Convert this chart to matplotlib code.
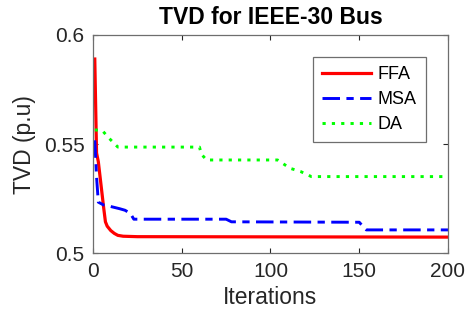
import matplotlib
matplotlib.use('Agg')
import matplotlib.pyplot as plt

plt.rcParams['font.family'] = ['Liberation Sans', 'DejaVu Sans']

# FFA curve
ffa_iter = [1, 2, 3, 4, 5, 6, 7, 8, 10, 12, 14, 17, 25, 200]
ffa_tvd = [0.589, 0.546, 0.542, 0.535, 0.528, 0.521, 0.5145, 0.5125, 0.5105,
           0.5092, 0.5083, 0.5079, 0.5077, 0.5075]

# MSA curve
msa_iter = [1, 2, 3, 6, 10, 15, 18, 21, 23, 75, 78, 150, 152, 154, 200]
msa_tvd = [0.5518, 0.535, 0.5235, 0.5222, 0.5215, 0.5205, 0.5198, 0.5184, 0.5157,
           0.5157, 0.5145, 0.5143, 0.5125, 0.5108, 0.5108]

# DA curve
da_iter = [1, 5, 9, 14, 60, 61, 64, 104, 111, 117, 123, 200]
da_tvd = [0.5565, 0.5565, 0.5528, 0.5487, 0.5487, 0.5455, 0.5428, 0.5428, 0.539,
          0.5375, 0.5352, 0.5352]

xticks = [0, 50, 100, 150, 200]
yticks = [0.5, 0.55, 0.6]
ytick_labels = ['0.5', '0.55', '0.6']

fig = plt.figure(figsize=(4.65, 3.24), dpi=100)
ax = fig.add_axes([0.2, 0.2176, 0.7634, 0.6744])

ax.plot(ffa_iter, ffa_tvd, color='#ff0000', lw=2.3, label='FFA')
ax.plot(msa_iter, msa_tvd, color='#0000ff', lw=2.1, dashes=(6, 2.2, 2.5, 2.2), label='MSA')
ax.plot(da_iter, da_tvd, color='#00ff00', lw=2.1, dashes=(1.1, 2.1), label='DA')

ax.set_xlim(0, 200)
ax.set_ylim(0.5, 0.6)
ax.set_xticks(xticks)
ax.set_yticks(yticks)
ax.set_yticklabels(ytick_labels)
ax.tick_params(direction='in', top=True, right=True, length=3.5, width=0.8,
               labelsize=15, colors='#262626', pad=6)
for sp in ax.spines.values():
    sp.set_color('#6e6e6e')
    sp.set_linewidth(0.9)

ax.set_title('TVD for IEEE-30 Bus', fontsize=16.5, fontweight='bold', pad=8)
ax.set_xlabel('Iterations', fontsize=16.5, color='#262626', labelpad=4)
ax.set_ylabel('TVD (p.u)', fontsize=16.5, color='#262626', labelpad=6)

leg = ax.legend(loc='upper right', bbox_to_anchor=(0.938, 0.899), borderaxespad=0,
                fontsize=13, handlelength=2.7, fancybox=False, framealpha=1,
                edgecolor='#6e6e6e', borderpad=0.5, labelspacing=0.45, handletextpad=0.4)
leg.get_frame().set_linewidth(0.9)

fig.savefig('out.png', dpi=100)
